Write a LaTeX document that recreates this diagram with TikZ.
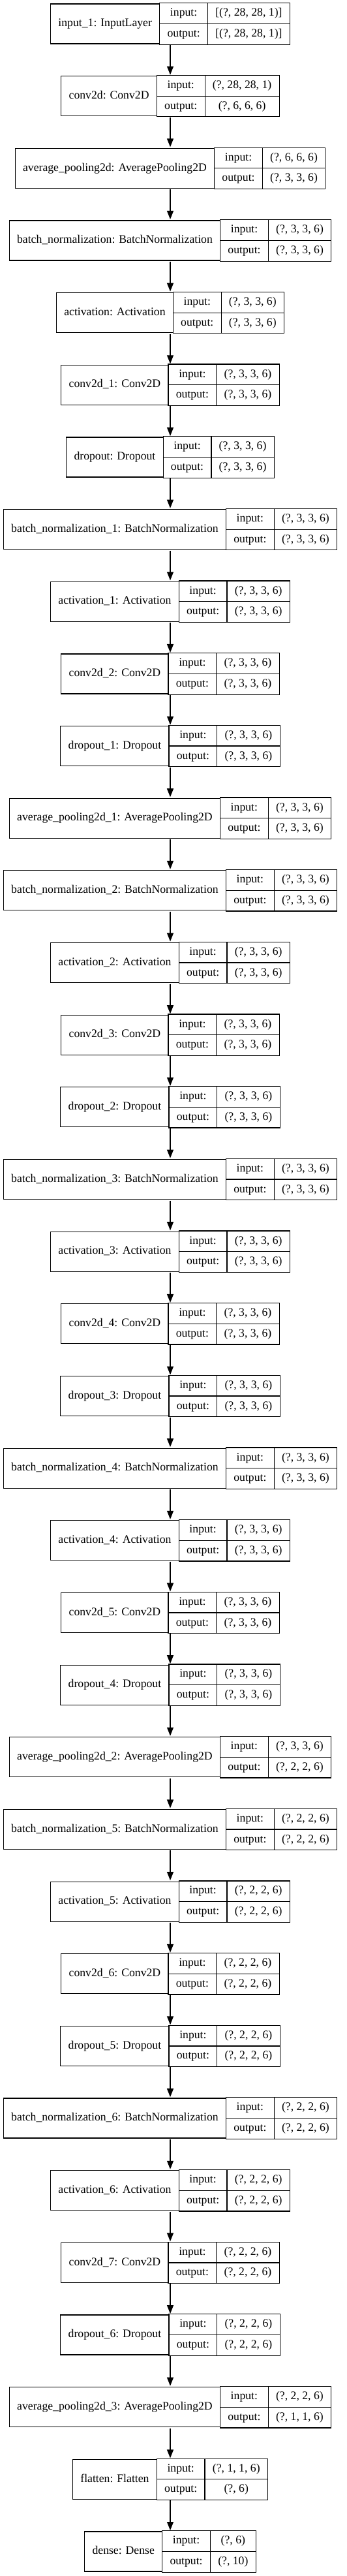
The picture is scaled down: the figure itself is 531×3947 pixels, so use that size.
\documentclass[tikz,border=0pt]{standalone}
\usepackage{fontspec}
\setmainfont{Liberation Serif}
\usetikzlibrary{arrows.meta}
\usetikzlibrary{shapes.multipart,positioning}

\tikzset{
  cell/.style={draw, line width=1.2pt, fill=white, anchor=center, inner xsep=11.8pt, font=\fontsize{17.7}{21}\selectfont},
  namecell/.style={cell, minimum height=61pt, inner ysep=0pt},
  portcell/.style={cell, rectangle split, rectangle split parts=2, inner ysep=4.75pt},
  layer/.style={inner sep=0pt, column sep=-1.2pt, ampersand replacement=\&},
  conn/.style={line width=1.2pt, -{Triangle[length=13pt,width=10pt]}}
}
\newcommand{\inout}[2]{\strut #1\nodepart{two}\strut #2}

\begin{document}
\begin{tikzpicture}[x=1pt,y=1pt]
\useasboundingbox (0,0) rectangle (531,-3947);
\foreach \lname/\lin/\lout [count=\i] in {
  {input\_1: InputLayer}/{[(?, 28, 28, 1)]}/{[(?, 28, 28, 1)]},
  {conv2d: Conv2D}/{(?, 28, 28, 1)}/{(?, 6, 6, 6)},
  {average\_pooling2d: AveragePooling2D}/{(?, 6, 6, 6)}/{(?, 3, 3, 6)},
  {batch\_normalization: BatchNormalization}/{(?, 3, 3, 6)}/{(?, 3, 3, 6)},
  {activation: Activation}/{(?, 3, 3, 6)}/{(?, 3, 3, 6)},
  {conv2d\_1: Conv2D}/{(?, 3, 3, 6)}/{(?, 3, 3, 6)},
  {dropout: Dropout}/{(?, 3, 3, 6)}/{(?, 3, 3, 6)},
  {batch\_normalization\_1: BatchNormalization}/{(?, 3, 3, 6)}/{(?, 3, 3, 6)},
  {activation\_1: Activation}/{(?, 3, 3, 6)}/{(?, 3, 3, 6)},
  {conv2d\_2: Conv2D}/{(?, 3, 3, 6)}/{(?, 3, 3, 6)},
  {dropout\_1: Dropout}/{(?, 3, 3, 6)}/{(?, 3, 3, 6)},
  {average\_pooling2d\_1: AveragePooling2D}/{(?, 3, 3, 6)}/{(?, 3, 3, 6)},
  {batch\_normalization\_2: BatchNormalization}/{(?, 3, 3, 6)}/{(?, 3, 3, 6)},
  {activation\_2: Activation}/{(?, 3, 3, 6)}/{(?, 3, 3, 6)},
  {conv2d\_3: Conv2D}/{(?, 3, 3, 6)}/{(?, 3, 3, 6)},
  {dropout\_2: Dropout}/{(?, 3, 3, 6)}/{(?, 3, 3, 6)},
  {batch\_normalization\_3: BatchNormalization}/{(?, 3, 3, 6)}/{(?, 3, 3, 6)},
  {activation\_3: Activation}/{(?, 3, 3, 6)}/{(?, 3, 3, 6)},
  {conv2d\_4: Conv2D}/{(?, 3, 3, 6)}/{(?, 3, 3, 6)},
  {dropout\_3: Dropout}/{(?, 3, 3, 6)}/{(?, 3, 3, 6)},
  {batch\_normalization\_4: BatchNormalization}/{(?, 3, 3, 6)}/{(?, 3, 3, 6)},
  {activation\_4: Activation}/{(?, 3, 3, 6)}/{(?, 3, 3, 6)},
  {conv2d\_5: Conv2D}/{(?, 3, 3, 6)}/{(?, 3, 3, 6)},
  {dropout\_4: Dropout}/{(?, 3, 3, 6)}/{(?, 3, 3, 6)},
  {average\_pooling2d\_2: AveragePooling2D}/{(?, 3, 3, 6)}/{(?, 2, 2, 6)},
  {batch\_normalization\_5: BatchNormalization}/{(?, 2, 2, 6)}/{(?, 2, 2, 6)},
  {activation\_5: Activation}/{(?, 2, 2, 6)}/{(?, 2, 2, 6)},
  {conv2d\_6: Conv2D}/{(?, 2, 2, 6)}/{(?, 2, 2, 6)},
  {dropout\_5: Dropout}/{(?, 2, 2, 6)}/{(?, 2, 2, 6)},
  {batch\_normalization\_6: BatchNormalization}/{(?, 2, 2, 6)}/{(?, 2, 2, 6)},
  {activation\_6: Activation}/{(?, 2, 2, 6)}/{(?, 2, 2, 6)},
  {conv2d\_7: Conv2D}/{(?, 2, 2, 6)}/{(?, 2, 2, 6)},
  {dropout\_6: Dropout}/{(?, 2, 2, 6)}/{(?, 2, 2, 6)},
  {average\_pooling2d\_3: AveragePooling2D}/{(?, 2, 2, 6)}/{(?, 1, 1, 6)},
  {flatten: Flatten}/{(?, 1, 1, 6)}/{(?, 6)},
  {dense: Dense}/{(?, 6)}/{(?, 10)}%
}{
  \matrix (L\i) [layer] at (261, {-36.5-110.657*(\i-1)}) {
    \node[namecell] (L\i-name) {\strut\lname}; \&
    \node[portcell] (L\i-port) {\inout{input:}{output:}}; \&
    \node[portcell] (L\i-shape) {\inout{\lin}{\lout}}; \\
  };
}
% edges between layers
\foreach \i [evaluate=\i as \j using int(\i+1)] in {1,...,35}
  \draw[conn] (L\i.south) -- (L\j.north);
\end{tikzpicture}
\end{document}
